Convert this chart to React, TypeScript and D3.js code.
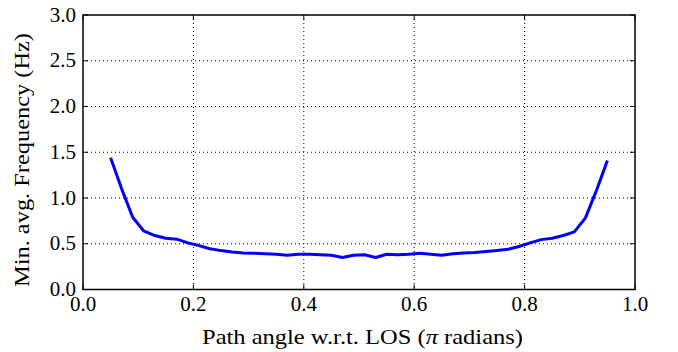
import React from "react";
import * as d3 from "d3";

const angles: number[] = d3.range(46).map((i) => +(0.05 + i * 0.02).toFixed(2));
const freqs: number[] = [
  1.44, 1.1, 0.79, 0.64, 0.59, 0.56, 0.55, 0.51, 0.48, 0.445,
  0.425, 0.41, 0.4, 0.395, 0.39, 0.385, 0.375, 0.385, 0.385, 0.38,
  0.375, 0.35, 0.375, 0.38, 0.35, 0.385, 0.38, 0.385, 0.395, 0.385,
  0.375, 0.39, 0.4, 0.405, 0.415, 0.425, 0.44, 0.47, 0.51, 0.545,
  0.56, 0.59, 0.63, 0.78, 1.08, 1.41,
];
const xTicks: number[] = [0, 0.2, 0.4, 0.6, 0.8, 1.0];
const yTicks: number[] = [0, 0.5, 1.0, 1.5, 2.0, 2.5, 3.0];
const xLabel = "Path angle w.r.t. LOS (";
const yLabel = "Min. avg. Frequency (Hz)";

const W = 678, H = 352;
const L = 83, R = 635, T = 15, B = 289.5;
const FONT = "'Liberation Serif', serif";

export default function App() {
  const x = d3.scaleLinear().domain([0, 1]).range([L, R]);
  const y = d3.scaleLinear().domain([0, 3]).range([B, T]);
  const line = d3.line<number>().x((_, i) => x(angles[i])).y((d) => y(d));
  const fs = 21;
  return (
    <svg width={W} height={H} style={{ position: "absolute", left: 0, top: 0 }}>
      <rect width={W} height={H} fill="white" />
      {xTicks.slice(1, -1).map((t) => (
        <line key={"gx" + t} x1={x(t)} x2={x(t)} y1={T} y2={B} stroke="black" strokeWidth={1} strokeDasharray="1,3" />
      ))}
      {yTicks.slice(1, -1).map((t) => (
        <line key={"gy" + t} x1={L} x2={R} y1={y(t)} y2={y(t)} stroke="black" strokeWidth={1} strokeDasharray="1,3" />
      ))}
      <path d={line(freqs) || ""} fill="none" stroke="#0000ff" strokeWidth={3} strokeLinejoin="round" />
      {xTicks.map((t) => (
        <g key={"tx" + t}>
          <line x1={x(t)} x2={x(t)} y1={B} y2={B - 5} stroke="black" />
          <line x1={x(t)} x2={x(t)} y1={T} y2={T + 5} stroke="black" />
          <text x={x(t)} y={310.5} textAnchor="middle" fontFamily={FONT} fontSize={fs}>
            {t.toFixed(1)}
          </text>
        </g>
      ))}
      {yTicks.map((t) => (
        <g key={"ty" + t}>
          <line x1={L} x2={L + 5} y1={y(t)} y2={y(t)} stroke="black" />
          <line x1={R} x2={R - 5} y1={y(t)} y2={y(t)} stroke="black" />
          <text x={L - 7} y={y(t) + 6.5} textAnchor="end" fontFamily={FONT} fontSize={fs}>
            {t.toFixed(1)}
          </text>
        </g>
      ))}
      <rect x={L} y={T} width={R - L} height={B - T} fill="none" stroke="black" strokeWidth={1.5} />
      <text x={202} y={344} fontFamily={FONT} fontSize={fs} textLength={321} lengthAdjust="spacingAndGlyphs">
        {xLabel}
        <tspan fontStyle="italic">π</tspan>
        {" radians)"}
      </text>
      <text transform={`translate(29,160) rotate(-90)`} textAnchor="middle" fontFamily={FONT} fontSize={fs} textLength={254} lengthAdjust="spacingAndGlyphs">
        {yLabel}
      </text>
    </svg>
  );
}
